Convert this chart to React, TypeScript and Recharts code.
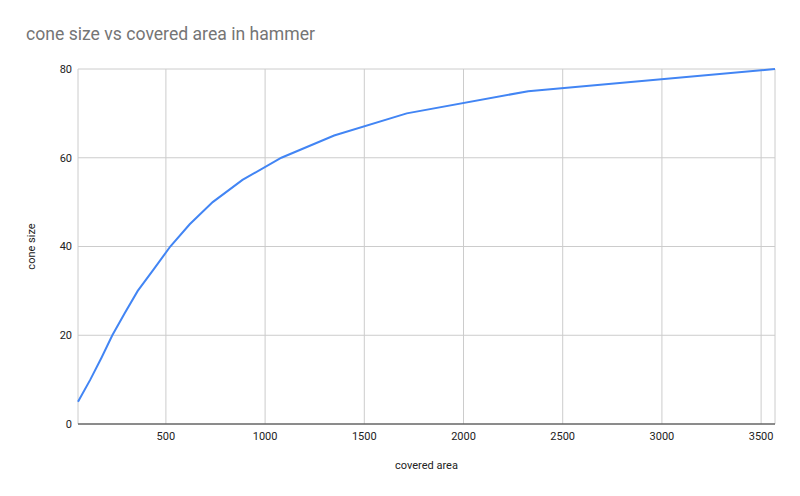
import { LineChart, Line, XAxis, YAxis, CartesianGrid } from "recharts";

const coveredArea = [57, 119, 176, 230, 293, 358, 441, 522, 620, 736, 886, 1082, 1348, 1714, 2326, 3570];
const coneSize = [5, 10, 15, 20, 25, 30, 35, 40, 45, 50, 55, 60, 65, 70, 75, 80];
const xTicks = [500, 1000, 1500, 2000, 2500, 3000, 3500];
const yTicks = [0, 20, 40, 60, 80];

const data = coveredArea.map((area, i) => ({ area, cone: coneSize[i] }));

const font = "Roboto, Arial, sans-serif";

export default function App() {
  return (
    <div style={{ position: "relative", width: 800, height: 496, background: "#fff", fontFamily: font }}>
      <style>{"body{margin:0}"}</style>
      <div
        style={{
          position: "absolute",
          left: 26,
          top: 22,
          fontSize: 17.6,
          color: "#757575",
          lineHeight: "24px",
          whiteSpace: "nowrap",
        }}
      >
        cone size vs covered area in hammer
      </div>
      <LineChart width={800} height={496} data={data} margin={{ top: 69, right: 25, bottom: 0, left: 0 }}>
        <CartesianGrid stroke="#cccccc" strokeWidth={1} />
        <XAxis
          dataKey="area"
          type="number"
          domain={["dataMin", "dataMax"]}
          ticks={xTicks}
          height={72}
          tickSize={0}
          tickMargin={8}
          tickLine={false}
          axisLine={{ stroke: "#333333" }}
          tick={{ fontSize: 11, fill: "#222222", fontFamily: font }}
          label={{
            value: "covered area",
            position: "insideBottom",
            offset: 27,
            style: { fontSize: 11, fill: "#222222", fontFamily: font },
          }}
        />
        <YAxis
          type="number"
          domain={[0, 80]}
          ticks={yTicks}
          width={78}
          tickSize={0}
          tickMargin={6}
          tickLine={false}
          axisLine={false}
          tick={{ fontSize: 11, fill: "#222222", fontFamily: font }}
          label={{
            value: "cone size",
            angle: -90,
            position: "insideLeft",
            offset: 31,
            style: { fontSize: 11, fill: "#222222", fontFamily: font, textAnchor: "middle" },
          }}
        />
        <Line
          type="linear"
          dataKey="cone"
          stroke="#4285f4"
          strokeWidth={2}
          dot={false}
          isAnimationActive={false}
        />
      </LineChart>
    </div>
  );
}
